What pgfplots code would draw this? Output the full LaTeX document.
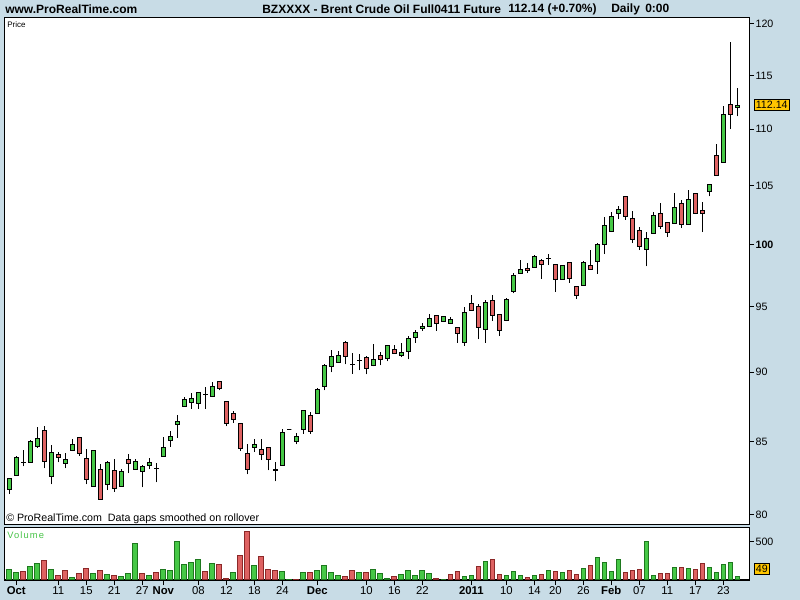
\documentclass[border=0pt]{standalone}
\usepackage{fontspec}
\setmainfont{Liberation Sans}
\usepackage{pgfplots}
\usepackage{pgfplotstable}
\pgfplotsset{compat=1.18}
\definecolor{bgblue}{RGB}{200,220,230}
\definecolor{cgreen}{RGB}{70,200,70}
\definecolor{cred}{RGB}{222,98,98}
\definecolor{vgline}{RGB}{30,120,30}
\definecolor{vrline}{RGB}{140,40,40}
\definecolor{lblyellow}{RGB}{255,198,0}
\definecolor{voltxt}{RGB}{70,195,70}

\pgfplotstableread{
i o h l c
0 81.72 82.50 81.38 82.44
1 82.67 83.99 82.62 83.90
2 83.50 84.41 83.26 83.55
3 83.56 85.11 83.50 85.02
4 84.64 86.03 84.57 85.23
5 85.74 86.08 83.12 83.63
6 82.60 84.76 82.03 84.25
7 84.06 84.25 83.53 83.90
8 83.49 84.20 83.12 83.71
9 84.39 85.18 84.32 84.81
10 85.25 85.32 84.01 84.18
11 83.83 84.48 82.03 82.38
12 81.91 84.39 81.88 84.34
13 83.08 83.42 81.00 81.04
14 82.05 83.60 81.64 83.56
15 83.01 83.79 81.55 81.78
16 81.91 83.08 81.88 82.94
17 83.76 84.13 82.80 83.49
18 83.08 83.76 83.05 83.63
19 82.94 83.35 81.83 83.24
20 83.35 83.86 83.08 83.56
21 83.10 83.49 82.17 83.14
22 83.97 85.32 83.95 84.60
23 85.09 85.74 84.64 85.37
24 86.22 86.88 85.27 86.38
25 87.51 88.16 87.48 88.02
26 87.80 88.48 87.33 88.09
27 87.73 88.55 87.33 88.50
28 88.33 88.89 87.33 88.37
29 88.24 89.28 88.16 88.96
30 89.33 89.36 88.65 88.82
31 87.87 87.90 86.05 86.29
32 87.00 87.16 86.33 86.57
33 86.29 86.32 84.32 84.53
34 84.18 84.81 82.72 83.08
35 84.60 85.18 84.25 84.81
36 84.46 85.18 83.69 84.11
37 84.60 84.63 82.98 83.76
38 83.01 83.58 82.24 83.05
39 83.35 85.88 83.33 85.65
40 85.86 85.86 85.86 85.86
41 85.02 85.60 84.79 85.37
42 85.85 87.18 85.53 87.16
43 86.87 87.08 85.55 85.69
44 86.99 88.84 86.97 88.70
45 88.92 90.60 88.65 90.53
46 90.45 91.67 89.98 91.20
47 90.75 91.58 90.72 91.27
48 92.26 92.33 90.58 91.20
49 90.60 91.45 89.90 90.56
50 90.86 91.38 90.13 90.90
51 91.12 91.20 89.83 90.30
52 90.50 92.13 90.43 90.98
53 91.27 91.53 90.50 90.98
54 91.05 92.05 90.80 92.03
55 91.72 92.05 91.40 91.42
56 91.27 92.20 91.12 91.50
57 91.58 92.71 90.95 92.56
58 92.64 93.17 92.23 93.02
59 93.33 93.72 93.14 93.49
60 93.49 94.44 93.41 94.10
61 94.33 94.36 93.14 93.72
62 93.87 94.28 93.80 94.26
63 93.72 94.18 93.70 94.03
64 93.41 93.43 92.23 92.95
65 92.26 94.95 92.00 94.56
66 95.28 95.91 94.70 94.72
67 95.04 95.20 92.48 93.41
68 93.25 95.52 92.23 95.36
69 95.52 95.91 93.87 94.33
70 94.41 94.43 92.76 93.17
71 93.95 95.68 93.87 95.60
72 96.22 97.67 96.06 97.51
73 97.67 98.73 97.65 98.00
74 98.08 98.48 97.67 97.91
75 98.16 99.13 98.13 99.05
76 98.73 98.81 97.23 98.37
77 98.84 99.24 98.32 98.88
78 98.40 98.43 96.20 97.19
79 97.19 98.34 97.17 98.26
80 98.57 98.60 96.92 97.27
81 96.57 96.60 95.60 95.88
82 96.71 98.65 96.69 98.57
83 98.32 99.57 97.98 98.00
84 98.65 100.17 97.64 100.04
85 100.04 102.29 99.22 101.62
86 101.11 102.71 101.03 102.37
87 102.63 103.23 102.12 102.97
88 104.07 104.10 102.06 102.37
89 102.20 102.80 100.12 100.46
90 101.19 101.45 99.54 99.87
91 99.63 101.03 98.22 100.54
92 100.95 102.71 100.92 102.46
93 102.63 103.48 101.28 101.54
94 101.87 101.90 100.62 101.03
95 101.78 104.35 101.76 103.14
96 103.48 103.74 101.36 101.70
97 101.70 104.58 101.68 103.82
98 104.33 104.36 102.54 102.63
99 102.88 103.57 101.03 102.63
100 104.50 105.15 104.07 105.12
101 107.60 108.67 105.88 105.90
102 107.03 112.15 107.00 111.37
103 112.29 118.19 110.00 111.36
104 111.98 113.81 111.17 112.14
}\candles

% volume on up-days (green)
\pgfplotstableread{
i v
0 141
1 101
3 184
4 211
6 132
9 36
12 88
14 75
16 49
17 88
18 483
20 53
22 141
23 128
24 509
25 207
26 233
27 272
29 220
32 101
35 197
39 114
40 10
42 101
44 128
45 193
46 101
47 62
50 101
52 141
53 88
54 22
56 75
57 128
58 62
59 128
60 88
62 9
65 49
66 62
68 246
71 62
72 114
73 62
75 62
77 128
79 101
82 154
84 299
85 233
86 114
87 272
91 509
92 62
95 167
97 154
100 167
101 101
102 207
103 233
104 49
}\volgreen

% volume on down-days (red)
\pgfplotstableread{
i v
2 114
5 263
7 53
8 128
10 88
11 154
13 128
15 62
19 88
21 101
28 114
30 207
31 22
33 325
34 641
36 312
37 141
38 128
41 12
43 101
48 49
49 128
51 101
55 49
61 22
63 75
64 114
67 180
69 272
70 75
74 36
76 75
78 114
80 128
81 75
83 193
88 101
89 128
90 141
93 88
94 88
96 167
98 141
99 220
}\volred

\begin{document}
\begin{tikzpicture}
\fill[bgblue] (0pt,0pt) rectangle (600pt,450pt);
\path[use as bounding box] (0pt,0pt) rectangle (600pt,450pt);

\begin{axis}[
  at={(3pt,56.25pt)}, anchor=south west,
  scale only axis, width=558.75pt, height=380.25pt,
  xmin=-0.757, xmax=105.67,
  ymode=log, ymin=79.34, ymax=120.59,
  axis background/.style={fill=white},
  axis line style={black, line width=0.75pt},
  xtick=\empty,
  ytick={80,85,90,95,100,105,110,115,120},
  yticklabels={80,85,90,95,\textbf{100},105,110,115,120},
  yminorticks=false,
  ytick pos=right, yticklabel pos=right,
  tick align=outside,
  major tick length=3.75pt,
  tick style={black, line width=0.75pt},
  yticklabel style={font=\fontsize{8}{9.6}\selectfont, inner sep=1pt},
]
\pgfplotsforeachungrouped \k in {0,...,104}{%
  \pgfplotstablegetelem{\k}{o}\of{\candles}\let\vo\pgfplotsretval
  \pgfplotstablegetelem{\k}{h}\of{\candles}\let\vh\pgfplotsretval
  \pgfplotstablegetelem{\k}{l}\of{\candles}\let\vl\pgfplotsretval
  \pgfplotstablegetelem{\k}{c}\of{\candles}\let\vc\pgfplotsretval
  \pgfmathsetmacro\xa{\k-0.3}%
  \pgfmathsetmacro\xb{\k+0.3}%
  \pgfmathparse{\vc<\vo?0:1}%
  \ifdim\pgfmathresult pt>0.5pt\def\bcol{cgreen}\else\def\bcol{cred}\fi
  \edef\next{%
    \noexpand\addplot[black, line width=0.9pt, forget plot] coordinates {(\k,\vl) (\k,\vh)};%
    \noexpand\addplot[draw=black, fill=\bcol, line width=0.75pt, forget plot] coordinates {(\xa,\vo) (\xb,\vo) (\xb,\vc) (\xa,\vc)} -- cycle;%
  }\next
}
\end{axis}

\begin{axis}[
  at={(3pt,15pt)}, anchor=south west,
  scale only axis, width=558.75pt, height=39pt,
  xmin=-0.757, xmax=105.67,
  ymin=0, ymax=684,
  axis background/.style={fill=white},
  axis line style={black, line width=0.75pt},
  xtick={1,7,11,15,19,22,27,31,35,39,44,51,55,59,66,71,75,78,82,86,90,94,98,102},
  xticklabels={\textbf{Oct},11,15,21,27,\textbf{Nov},08,12,18,24,\textbf{Dec},10,16,22,\textbf{2011},10,14,20,26,\textbf{Feb},07,11,17,23},
  xtick pos=bottom,
  ytick={500}, yticklabels={500},
  ytick pos=right, yticklabel pos=right,
  tick align=outside,
  major tick length=3.75pt,
  tick style={black, line width=0.75pt},
  xticklabel style={font=\fontsize{8.5}{10}\selectfont, inner sep=1pt},
  yticklabel style={font=\fontsize{8}{9.6}\selectfont, inner sep=1pt},
]
\addplot[ybar, bar width=0.66, bar shift=0pt, fill=cgreen, draw=vgline, line width=0.75pt] table[x=i, y=v] {\volgreen};
\addplot[ybar, bar width=0.66, bar shift=0pt, fill=cred, draw=vrline, line width=0.75pt] table[x=i, y=v] {\volred};
\end{axis}

% header
\node[anchor=west, inner sep=0pt, font=\bfseries\fontsize{9}{10}\selectfont] at (3.75pt,443.25pt) {www.ProRealTime.com};
\node[anchor=west, inner sep=0pt, font=\bfseries\fontsize{9}{10}\selectfont] at (196.5pt,443.25pt) {BZXXXX - Brent Crude Oil Full0411 Future};
\node[anchor=west, inner sep=0pt, font=\bfseries\fontsize{9}{10}\selectfont] at (381pt,443.25pt) {112.14 (+0.70\%)};
\node[anchor=west, inner sep=0pt, font=\bfseries\fontsize{9}{10}\selectfont] at (458.25pt,443.25pt) {Daily\hspace{4pt}0:00};
% panel texts
\node[anchor=west, inner sep=0pt, font=\fontsize{6}{7}\selectfont] at (5.25pt,431.25pt) {Price};
\node[anchor=west, inner sep=0pt, font=\fontsize{8}{9}\selectfont] at (4.5pt,60.75pt) {\textcopyright\ ProRealTime.com\ \ Data gaps smoothed on rollover};
\node[anchor=west, inner sep=0pt, text=voltxt, font=\fontsize{7}{8}\selectfont\addfontfeature{LetterSpace=12}] at (5.25pt,48.75pt) {Volume};
% value boxes
\node[anchor=west, draw=black, line width=0.75pt, fill=lblyellow, inner xsep=1pt, inner ysep=1.5pt, font=\fontsize{8}{9}\selectfont] at (565.5pt,371.1pt) {112.14};
\node[anchor=west, draw=black, line width=0.75pt, fill=lblyellow, inner xsep=1pt, inner ysep=1.5pt, font=\fontsize{8}{9}\selectfont] at (565.5pt,23.4pt) {49};
\end{tikzpicture}
\end{document}
